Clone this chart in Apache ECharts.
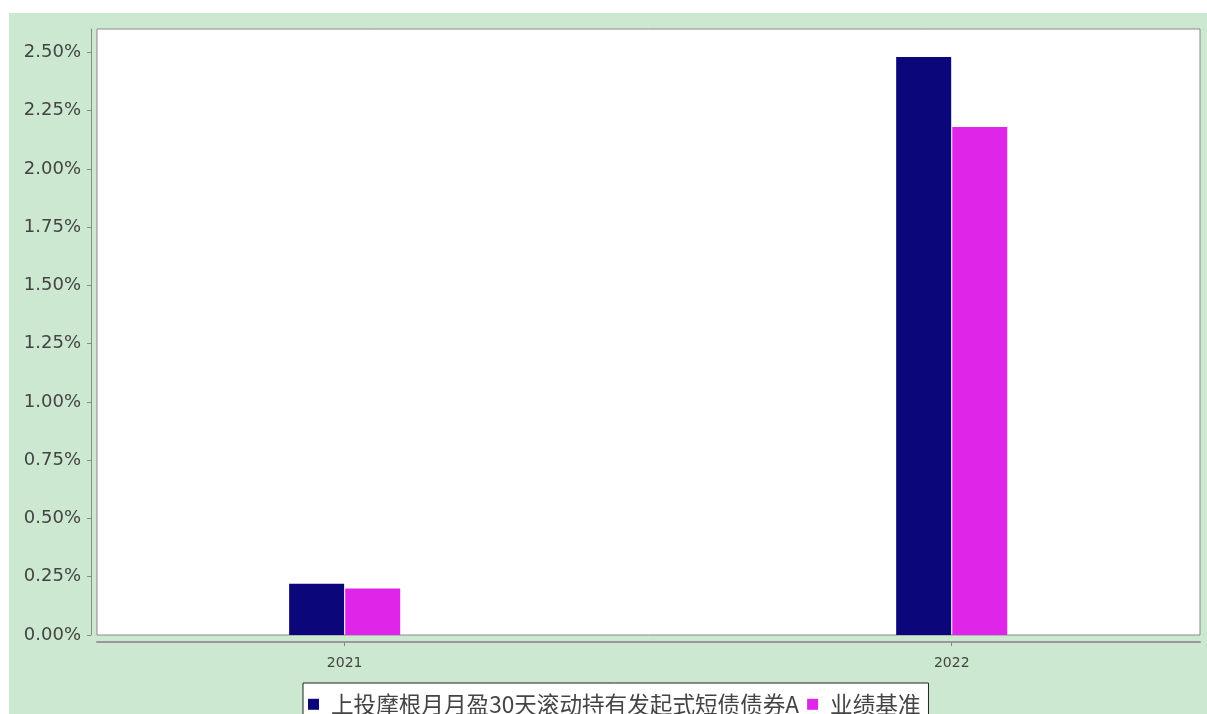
<!DOCTYPE html>
<html>
<head>
<meta charset="utf-8">
<script src="https://cdn.jsdelivr.net/npm/echarts@6/dist/echarts.min.js"></script>
<style>
html,body{margin:0;padding:0;background:#ffffff;}
#bg{position:absolute;left:9px;top:13px;width:1198px;height:701px;background:#cce8d0;}
#chart{position:absolute;left:0;top:0;width:1207px;height:714px;}
</style>
</head>
<body>
<div id="bg"></div>
<div id="chart"></div>
<script>
const categories = ['2021', '2022'];
const seriesNames = ['上投摩根月月盈30天滚动持有发起式短债债券A', '业绩基准'];
const fundValues = [0.22, 2.48];
const benchValues = [0.20, 2.18];
const yTicks = [0, 0.25, 0.5, 0.75, 1.0, 1.25, 1.5, 1.75, 2.0, 2.25, 2.5];

const chart = echarts.init(document.getElementById('chart'));
const catIdx = categories.map((c, i) => i);
chart.setOption({
  animation: false,
  backgroundColor: 'transparent',
  grid: {
    left: 97, top: 29, right: 7, bottom: 79,
    show: true, backgroundColor: '#ffffff', borderColor: '#8a8a8a', borderWidth: 1
  },
  legend: {
    data: seriesNames,
    left: 303, top: 683,
    backgroundColor: '#ffffff', borderColor: '#222', borderWidth: 1,
    padding: [10, 8, 9, 5],
    itemWidth: 11, itemHeight: 11, itemGap: 8,
    icon: 'rect',
    textStyle: { fontFamily: 'Noto Sans CJK SC', fontSize: 22.6, color: '#444', padding: [0, 0, 0, 7] }
  },
  xAxis: {
    type: 'value', min: -0.408, max: 1.409, offset: 7,
    splitLine: { show: false },
    axisLine: { show: true, onZero: false, lineStyle: { color: '#999', width: 2 } },
    axisTick: { show: true, length: 4, lineStyle: { color: '#888' }, customValues: catIdx },
    axisLabel: {
      customValues: catIdx, margin: 14,
      formatter: v => categories[Math.round(v)],
      fontFamily: 'DejaVu Sans', fontSize: 14, color: '#444'
    }
  },
  yAxis: {
    type: 'value', min: 0, max: 2.6, offset: 6,
    splitLine: { show: false },
    axisLine: { show: true, onZero: false, lineStyle: { color: '#888', width: 1 } },
    axisTick: { show: true, length: 4, lineStyle: { color: '#888' }, customValues: yTicks },
    axisLabel: {
      customValues: yTicks, margin: 10,
      formatter: v => v.toFixed(2) + '%',
      fontFamily: 'DejaVu Sans', fontSize: 18, color: '#444'
    }
  },
  series: [
    {
      name: seriesNames[0], type: 'bar', barWidth: 55, barGap: '2%',
      itemStyle: { color: '#0b0679' },
      data: categories.map((c, i) => [i, fundValues[i]])
    },
    {
      name: seriesNames[1], type: 'bar', barWidth: 55, barGap: '2%',
      itemStyle: { color: '#df26e8' },
      data: categories.map((c, i) => [i, benchValues[i]])
    }
  ]
});
</script>
</body>
</html>
